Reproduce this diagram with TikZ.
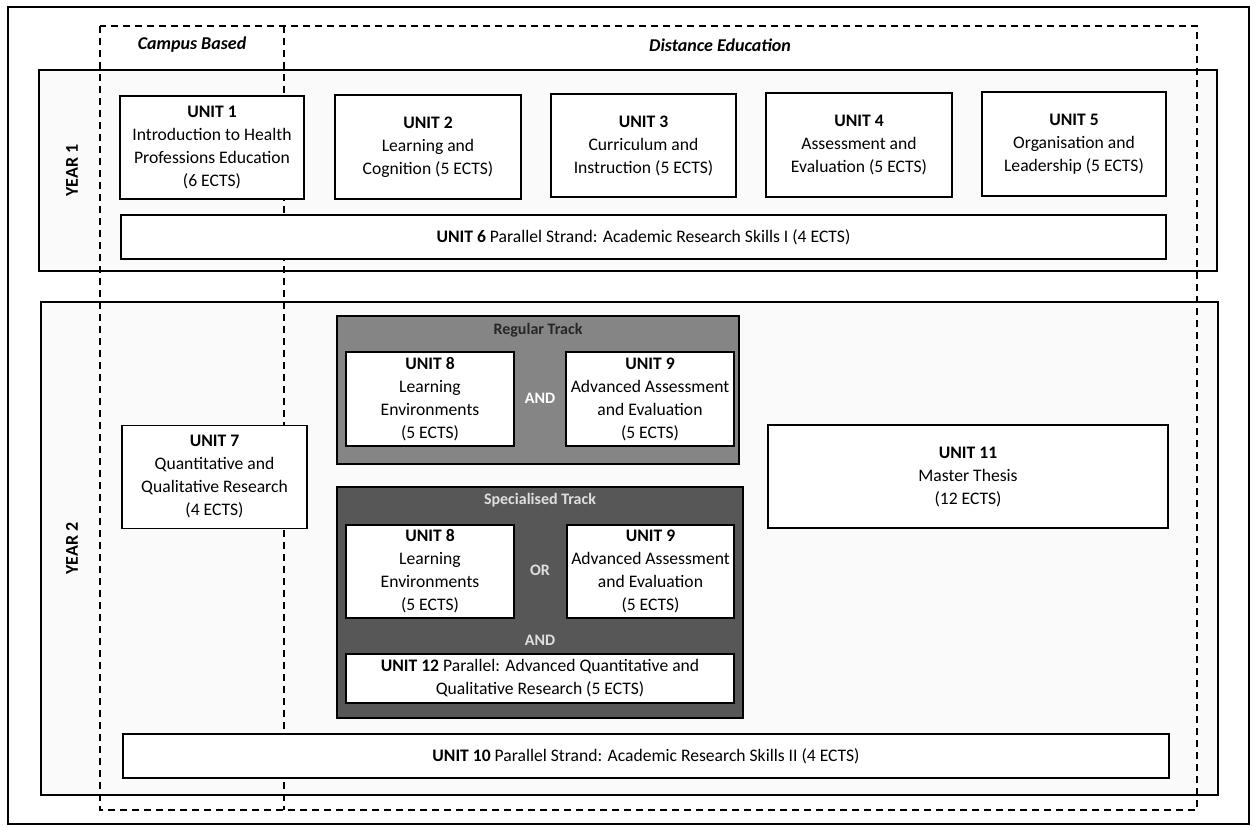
\documentclass[tikz,border=0pt]{standalone}
\usepackage{fontspec}
\setmainfont{Carlito}
\begin{document}
\begin{tikzpicture}[x=1pt,y=-1pt,
  txt/.style={font=\fontsize{17.6}{23}\selectfont, align=center},
  unitbox/.style={draw, line width=1.4pt, fill=white, inner sep=0pt, txt},
  yearbox/.style={draw, line width=1.4pt, fill=gray!4, inner sep=0pt},
  dsh/.style={line width=1.3pt, dash pattern=on 7pt off 5pt},
  trackbox/.style={draw, line width=1.4pt, inner sep=0pt},
  tlabel/.style={font=\fontsize{16}{18}\selectfont\bfseries},
  head/.style={font=\fontsize{18}{22}\selectfont\bfseries\itshape},
  yearlbl/.style={font=\fontsize{18}{22}\selectfont\bfseries, rotate=90}]
\useasboundingbox (0,0) rectangle (1253,827);
% outer frame
\draw[line width=1.4pt] (8,7) rectangle (1249,824);
% year containers
\node[yearbox, minimum width=1178pt, minimum height=201pt] (y1) at (628,170.5) {};
\node[yearbox, minimum width=1177pt, minimum height=493pt] (y2) at (629.5,548.5) {};
% dashed regions
\draw[dsh] (100,26) rectangle (1197,810);
\coordinate (dtop) at (284,26);
\coordinate (dbot) at (284,810);
\draw[dsh] (dtop) -- (dbot);
% headings
\node[head] (campus) at (192,45) {Campus Based};
\node[head] (dist) at (720,45) {Distance Education};
\node[yearlbl] (yl1) at (72,170.5) {YEAR 1};
\node[yearlbl] (yl2) at (72,548.5) {YEAR 2};
% year 1 units
\node[unitbox, minimum width=184pt, minimum height=103pt] (u1) at (212,147.5) {\textbf{UNIT 1}\\Introduction to Health\\Professions Education\\(6 ECTS)};
\node[unitbox, minimum width=186pt, minimum height=104pt] (u2) at (428,147) {\textbf{UNIT 2}\\Learning and\\Cognition (5 ECTS)};
\node[unitbox, minimum width=185pt, minimum height=103pt] (u3) at (643.5,145.5) {\textbf{UNIT 3}\\Curriculum and\\Instruction (5 ECTS)};
\node[unitbox, minimum width=186pt, minimum height=104pt] (u4) at (859,145) {\textbf{UNIT 4}\\Assessment and\\Evaluation (5 ECTS)};
\node[unitbox, minimum width=184pt, minimum height=104pt] (u5) at (1074,144) {\textbf{UNIT 5}\\Organisation and\\Leadership (5 ECTS)};
\node[unitbox, minimum width=1045pt, minimum height=44pt] (u6) at (643.5,237) {\textbf{UNIT 6} Parallel Strand: Academic Research Skills I (4 ECTS)};
% year 2 units
\node[unitbox, minimum width=185pt, minimum height=103pt] (u7) at (214.5,477) {\textbf{UNIT 7}\\Quantitative and\\Qualitative Research\\(4 ECTS)};
\node[unitbox, minimum width=400pt, minimum height=103pt] (u11) at (968,476.5) {\textbf{UNIT 11}\\Master Thesis\\(12 ECTS)};
\node[unitbox, minimum width=1046pt, minimum height=44pt] (u10) at (646,756) {\textbf{UNIT 10} Parallel Strand: Academic Research Skills II (4 ECTS)};
% regular track
\node[trackbox, fill=black!48, minimum width=402pt, minimum height=148pt] (reg) at (538,390) {};
\node[tlabel, text=black!85] (regl) at (538,330) {Regular Track};
\node[unitbox, minimum width=168pt, minimum height=94pt] (r8) at (430,399) {\textbf{UNIT 8}\\Learning\\Environments\\(5 ECTS)};
\node[unitbox, minimum width=168pt, minimum height=94pt] (r9) at (650,399) {\textbf{UNIT 9}\\Advanced Assessment\\and Evaluation\\(5 ECTS)};
\node[tlabel, text=white] (rand) at (540,398) {AND};
% specialised track
\node[trackbox, fill=black!66, minimum width=406pt, minimum height=231pt] (spec) at (540,602.5) {};
\node[tlabel, text=gray!25] (specl) at (540,500) {Specialised Track};
\node[unitbox, minimum width=168pt, minimum height=93pt] (s8) at (430,571.5) {\textbf{UNIT 8}\\Learning\\Environments\\(5 ECTS)};
\node[unitbox, minimum width=167pt, minimum height=93pt] (s9) at (650.5,571.5) {\textbf{UNIT 9}\\Advanced Assessment\\and Evaluation\\(5 ECTS)};
\node[tlabel, text=gray!25] (sor) at (540,570) {OR};
\node[tlabel, text=gray!25] (sand) at (540,640) {AND};
\node[unitbox, minimum width=388pt, minimum height=49pt] (u12) at (540,678.5) {\textbf{UNIT 12} Parallel: Advanced Quantitative and\\Qualitative Research (5 ECTS)};
\end{tikzpicture}
\end{document}
